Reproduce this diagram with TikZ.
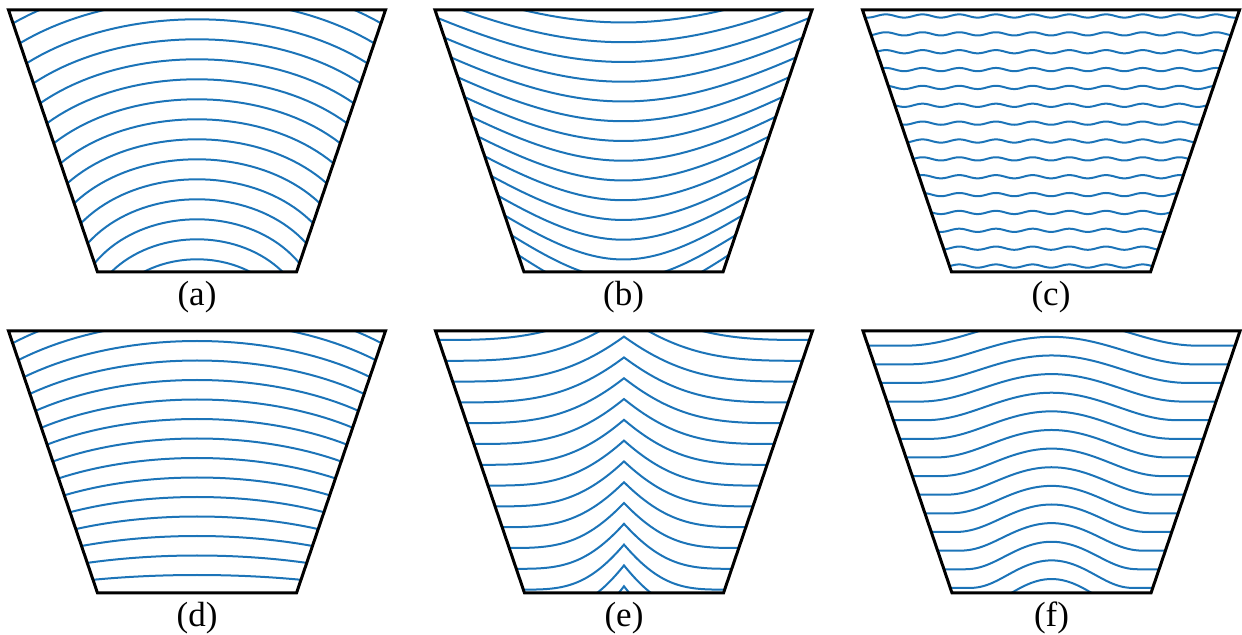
\documentclass[tikz,border=0pt]{standalone}
\usepackage{fontspec}
\setmainfont{Liberation Serif}
\definecolor{lineblue}{RGB}{28,116,184}
\usetikzlibrary{positioning}
\tikzset{
  panelframe/.style={line width=1.5pt},
  flowline/.style={lineblue, line width=1pt},
  panellabel/.style={font=\fontsize{17.5}{20}\selectfont, inner sep=0pt}
}
\newcommand{\trapezoid}{(-188.5,0) -- (188.5,0) -- (99.5,262) -- (-99.5,262) -- cycle}

\begin{document}
\begin{tikzpicture}[x=0.5pt, y=-0.5pt]
  \useasboundingbox (0,0) rectangle (1242,635);

  \begin{scope}[shift={(197,10)}]
    \begin{scope}
      \clip \trapezoid;
      \foreach \k [evaluate=\k as \m using -30.7+20*\k] in {0,...,14}
        \draw[flowline] plot[domain=-1:1, samples=41] ({\x*(188.5-0.3397*(\m+44*\x*\x))}, {\m+44*\x*\x});
    \end{scope}
    \draw[panelframe] \trapezoid;
    \node[panellabel] (lbla) at (0,287) {(a)};
  \end{scope}

  \begin{scope}[shift={(623.5,10)}]
    \begin{scope}
      \clip \trapezoid;
      \foreach \k [evaluate=\k as \m using 12.5+19.75*\k] in {0,...,14}
        \draw[flowline] plot[domain=-1:1, samples=41] ({\x*(188.5-0.3397*(\m-44*\x*\x))}, {\m-44*\x*\x});
    \end{scope}
    \draw[panelframe] \trapezoid;
    \node[panellabel] (lblb) at (0,287) {(b)};
  \end{scope}

  \begin{scope}[shift={(1051,10)}]
    \begin{scope}
      \clip \trapezoid;
      \foreach \j [evaluate=\j as \yy using 6+17.86*\j] in {0,...,14}
        \draw[flowline] plot[domain=-192:192, samples=320] (\x, {\yy+1.6*cos(9.81*\x)});
    \end{scope}
    \draw[panelframe] \trapezoid;
    \node[panellabel] (lblc) at (0,287) {(c)};
  \end{scope}

  \begin{scope}[shift={(197,331)}]
    \begin{scope}
      \clip \trapezoid;
      \foreach \k [evaluate=\k as \m using -29+19.5*\k, evaluate=\k as \c using 41.2-2.6*\k] in {0,...,14}
        \draw[flowline] plot[domain=-1:1, samples=41] ({\x*(188.5-0.3397*(\m+\c*\x*\x))}, {\m+\c*\x*\x});
    \end{scope}
    \draw[panelframe] \trapezoid;
    \node[panellabel] (lbld) at (0,287) {(d)};
  \end{scope}

  \begin{scope}[shift={(624,331)}]
    \begin{scope}
      \clip \trapezoid;
      \foreach \k [evaluate=\k as \m using -36+20.8*\k] in {0,...,14}
        \draw[flowline] plot[domain=-1:1, samples=81] ({\x*(188.5-0.3397*(\m+45*(1-(1-abs(\x))*(1-abs(\x))*(1-abs(\x)))))}, {\m+45*(1-(1-abs(\x))*(1-abs(\x))*(1-abs(\x)))});
    \end{scope}
    \draw[panelframe] \trapezoid;
    \node[panellabel] (lble) at (0,287) {(e)};
  \end{scope}

  \begin{scope}[shift={(1051.5,331)}]
    \begin{scope}
      \clip \trapezoid;
      \foreach \k [evaluate=\k as \m using -12.8+18.63*\k] in {0,...,14}
        \draw[flowline] plot[domain=-1:1, samples=61] ({\x*(188.5-0.3397*(\m+13.75*(1-cos(225*min(abs(\x),0.8)))))}, {\m+13.75*(1-cos(225*min(abs(\x),0.8)))});
    \end{scope}
    \draw[panelframe] \trapezoid;
    \node[panellabel] (lblf) at (0,287) {(f)};
  \end{scope}
\end{tikzpicture}
\end{document}
